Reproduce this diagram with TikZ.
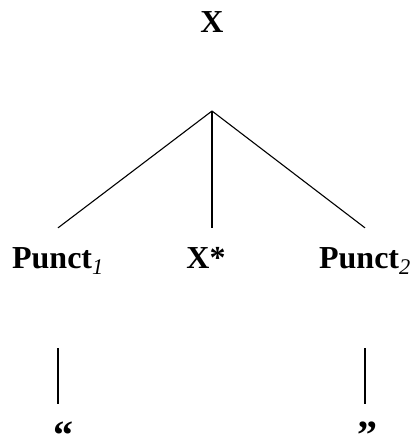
\documentclass[tikz,border=0pt]{standalone}
\usepackage{fontspec}
\setmainfont{Liberation Serif}
\tikzset{
  cat/.style={font=\bfseries\fontsize{32}{38}\selectfont, inner sep=0pt, anchor=base},
  quote/.style={cat, font=\bfseries\fontsize{40}{48}\selectfont},
  edge/.style={line width=1.1pt}
}
\begin{document}
\begin{tikzpicture}[x=1pt, y=-1pt]
        \useasboundingbox (0,0) rectangle (412,437);
        % Root
        \node[cat] (root) at (212,32) {X};
        \coordinate (apex) at (212,111);

        % Daughters
        \node[cat] (punctA) at (58,268) {Punct\textsubscript{\normalfont\itshape 1}};
        \node[cat] (xstar) at (206,268) {X*};
        \node[cat] (punctB) at (365,268) {Punct\textsubscript{\normalfont\itshape 2}};
        \coordinate (xtop) at ([yshift=19pt]xstar.north);

        % Quote marks
        \node[quote] (quoteA) at (63,448) {“};
        \node[quote] (quoteB) at (367,448) {”};

        % Branches
        \draw[edge] (apex) -- ([yshift=19pt]punctA.north);
        \draw[edge] (apex) -- (apex |- xtop);
        \draw[edge] (apex) -- ([yshift=19pt]punctB.north);

        % Leaves
        \draw[edge] ([yshift=-80pt]punctA.base) -- ([yshift=-136pt]punctA.base);
        \draw[edge] ([yshift=-80pt]punctB.base) -- ([yshift=-136pt]punctB.base);
\end{tikzpicture}
\end{document}
